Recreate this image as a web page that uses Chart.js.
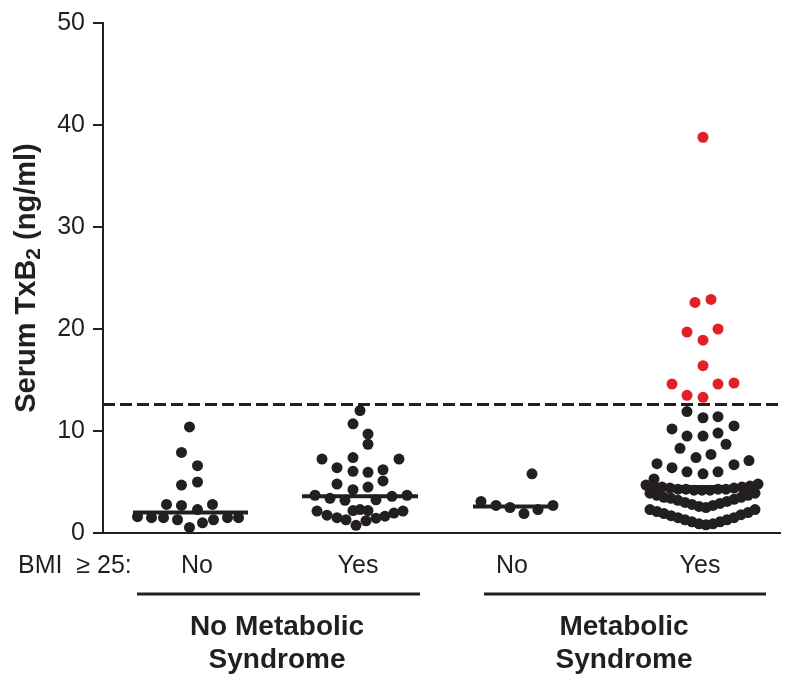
<!DOCTYPE html>
<html>
<head>
<meta charset="utf-8">
<script src="https://cdn.jsdelivr.net/npm/chart.js@4"></script>
<style>
  html, body { margin: 0; padding: 0; background: #fff; }
</style>
</head>
<body>
<canvas id="txb2Chart" width="800" height="688"></canvas>
<script>
// categories, left to right
const bmiLabels = ["No", "Yes", "No", "Yes"];
const syndromeLabels = [["No Metabolic", "Syndrome"], ["Metabolic", "Syndrome"]];
const medians = [2.0, 3.6, 2.6, 4.5];
const cutoff = 12.6;

// serum TxB2 (ng/ml) per subject: [swarm offset, value]
const noMetsBmiNo = [
  [-0.1, 10.4], [-0.9, 7.9], [0.7, 6.6], [-0.9, 4.7], [0.7, 5.0],
  [-2.4, 2.8], [-0.9, 2.7], [0.7, 2.3], [2.2, 2.8],
  [-5.3, 1.6], [-3.9, 1.5], [-2.7, 1.5], [-1.3, 1.3], [2.3, 1.3], [3.7, 1.5], [4.8, 1.5],
  [1.2, 1.0], [-0.1, 0.55]
];
const noMetsBmiYes = [
  [0, 12.0], [-0.7, 10.7], [0.8, 9.7], [0.8, 8.7],
  [-3.8, 7.25], [-0.7, 7.4], [3.9, 7.25], [-2.3, 6.4], [-0.7, 6.05], [0.8, 5.95], [2.3, 6.2],
  [-2.3, 4.8], [0.8, 4.5], [2.3, 5.1], [-0.7, 4.25],
  [-4.5, 3.7], [-3.0, 3.4], [-1.5, 3.2], [1.6, 3.25], [3.2, 3.6], [4.7, 3.7],
  [-4.3, 2.15], [-3.3, 1.75], [-2.3, 1.5], [-1.4, 1.3], [-0.7, 2.2], [0, 2.3], [0.8, 2.2],
  [0.6, 1.2], [1.6, 1.45], [2.5, 1.65], [3.4, 1.95], [4.3, 2.15], [-0.4, 0.75]
];
const metsBmiNo = [
  [1.7, 5.8], [-3.4, 3.1], [-1.9, 2.7], [-0.5, 2.5], [0.9, 1.9], [2.3, 2.3], [3.8, 2.7]
];
const metsBmiYes = [
  [0.1, 38.8], [-0.7, 22.6], [0.9, 22.9], [-1.5, 19.7], [1.6, 20.0], [0.1, 18.9],
  [0.1, 16.4], [-3.0, 14.6], [1.6, 14.6], [3.2, 14.7], [-1.5, 13.5], [0.1, 13.3],
  [-1.5, 11.9], [0.1, 11.3], [1.6, 11.4], [-3.0, 10.2], [3.2, 10.5],
  [-1.5, 9.5], [0.1, 9.5], [1.6, 9.8], [2.4, 8.7], [-2.2, 8.3], [-0.6, 7.4], [0.9, 7.7],
  [-4.5, 6.8], [-3.0, 6.4], [-1.5, 6.0], [0.1, 5.8], [1.6, 6.0], [3.2, 6.7], [4.7, 7.1], [-4.8, 5.3],
  [-5.6, 4.7], [-4.8, 4.6], [-4.0, 4.5], [-3.2, 4.4], [-2.4, 4.3], [-1.6, 4.3], [-0.8, 4.2],
  [0, 4.2], [0.8, 4.2], [1.6, 4.3], [2.4, 4.3], [3.2, 4.4], [4.0, 4.5], [4.8, 4.6], [5.6, 4.8],
  [-5.2, 3.9], [-4.5, 3.7], [-3.8, 3.5], [-3.1, 3.4], [-2.4, 3.2], [-1.7, 3.0], [-1.0, 2.8], [-0.3, 2.6],
  [0.4, 2.5], [1.1, 2.7], [1.8, 2.9], [2.5, 3.1], [3.2, 3.3], [3.9, 3.5], [4.6, 3.7], [5.3, 3.9],
  [-5.2, 2.3], [-4.5, 2.1], [-3.8, 1.9], [-3.1, 1.7], [-2.4, 1.5], [-1.7, 1.3], [-1.0, 1.1], [-0.3, 0.9],
  [0.4, 0.8], [1.1, 0.9], [1.8, 1.1], [2.5, 1.3], [3.2, 1.5], [3.9, 1.8], [4.6, 2.0], [5.3, 2.3]
];
const groups = [noMetsBmiNo, noMetsBmiYes, metsBmiNo, metsBmiYes];

// layout on the x scale (1 unit = 10 px)
const groupCentres = [8.75, 25.7, 41.2, 59.9];
const medianHalfWidths = [5.75, 5.8, 4.2, 5.9];
const labelCentres = [9.4, 25.5, 40.9, 59.7];
const bracketSpans = [[3.4, 31.7], [38.1, 66.3]];
const syndromeCentres = [17.4, 52.1];
const xMax = 67.7;

const ink = "#231f20";
const red = "#e2202a";
const fontFamily = '"Liberation Sans", Arial, Helvetica, sans-serif';

const datasets = [];
groups.forEach((g, i) => {
  datasets.push({
    data: g.map(p => ({ x: groupCentres[i] + p[0], y: p[1] })),
    pointRadius: 5.5,
    pointBorderWidth: 0,
    backgroundColor: c => (c.raw && c.raw.y > cutoff ? red : ink),
    borderColor: c => (c.raw && c.raw.y > cutoff ? red : ink)
  });
});
medians.forEach((m, i) => {
  datasets.push({
    data: [{ x: groupCentres[i] - medianHalfWidths[i], y: m }, { x: groupCentres[i] + medianHalfWidths[i], y: m }],
    showLine: true,
    borderColor: ink,
    borderWidth: 4,
    pointRadius: 0
  });
});
datasets.push({
  data: [{ x: 0, y: cutoff }, { x: xMax, y: cutoff }],
  showLine: true,
  borderColor: ink,
  borderWidth: 3,
  borderDash: [12, 5],
  pointRadius: 0
});

// y title with a real subscript, and labels under the plot
const extraText = {
  id: "extraText",
  afterDraw(chart) {
    const ctx = chart.ctx;
    const x = chart.scales.x;
    const area = chart.chartArea;
    ctx.save();
    ctx.fillStyle = ink;
    ctx.strokeStyle = ink;

    // rotated axis title
    const big = "bold 29px " + fontFamily;
    const small = "bold 21px " + fontFamily;
    const parts = [["Serum TxB", big, 0], ["2", small, 7], [" (ng/ml)", big, 0]];
    let total = 0;
    parts.forEach(p => { ctx.font = p[1]; total += ctx.measureText(p[0]).width; });
    ctx.translate(27, (area.top + area.bottom) / 2);
    ctx.rotate(-Math.PI / 2);
    ctx.textAlign = "left";
    ctx.textBaseline = "middle";
    let pos = -total / 2;
    parts.forEach(p => {
      ctx.font = p[1];
      ctx.fillText(p[0], pos, p[2]);
      pos += ctx.measureText(p[0]).width;
    });
    ctx.setTransform(1, 0, 0, 1, 0, 0);

    ctx.textBaseline = "middle";
    ctx.font = "25px " + fontFamily;
    ctx.textAlign = "left";
    ctx.fillText("BMI  \u2265 25:", 18, 566);
    ctx.textAlign = "center";
    bmiLabels.forEach((t, i) => ctx.fillText(t, x.getPixelForValue(labelCentres[i]), 566));

    ctx.lineWidth = 3;
    bracketSpans.forEach(s => {
      ctx.beginPath();
      ctx.moveTo(x.getPixelForValue(s[0]), 594);
      ctx.lineTo(x.getPixelForValue(s[1]), 594);
      ctx.stroke();
    });

    ctx.font = "bold 28px " + fontFamily;
    syndromeLabels.forEach((lines, i) => {
      lines.forEach((t, j) => ctx.fillText(t, x.getPixelForValue(syndromeCentres[i]), 627 + j * 33));
    });
    ctx.restore();
  }
};

new Chart(document.getElementById("txb2Chart"), {
  type: "scatter",
  data: { datasets: datasets },
  options: {
    responsive: false,
    animation: false,
    devicePixelRatio: 1,
    layout: { padding: { left: 0, right: 20, top: 18, bottom: 155 } },
    plugins: { legend: { display: false }, tooltip: { enabled: false } },
    scales: {
      x: {
        type: "linear",
        min: 0,
        max: xMax,
        ticks: { display: false },
        grid: { display: false, drawTicks: false },
        border: { display: true, color: ink, width: 2 }
      },
      y: {
        min: 0,
        max: 50,
        afterFit: s => { s.width = 103; },
        ticks: { stepSize: 10, color: ink, padding: 8, font: { family: fontFamily, size: 25 } },
        grid: { drawOnChartArea: false, drawTicks: true, tickLength: 10, color: ink, lineWidth: 2 },
        border: { display: true, color: ink, width: 2 }
      }
    }
  },
  plugins: [extraText]
});
</script>
</body>
</html>
